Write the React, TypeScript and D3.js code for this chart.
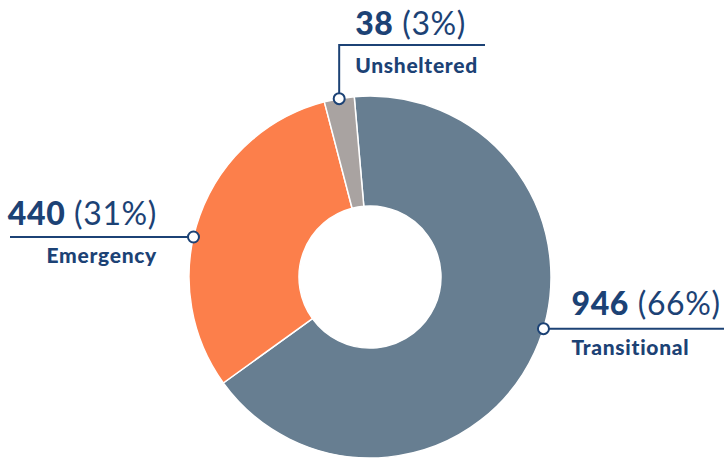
import * as d3 from "d3";

// shelter counts
const categories = ["Transitional", "Emergency", "Unsheltered"];
const counts = [946, 440, 38];
const colors = ["#677e91", "#fc7f4b", "#a9a3a1"];

const W = 724;
const H = 459;
const NAVY = "#1c4275";
const FONT = "Lato, 'Open Sans', sans-serif";

const cx = 370;
const cy = 277;
const outerR = 181;
const innerR = 71;
const deg = Math.PI / 180;

// where each leader sits and which way it runs
const leaders: Record<string, { shift: number; side: "right" | "left" | "top" }> = {
  Transitional: { shift: -8, side: "right" },
  Emergency: { shift: -7, side: "left" },
  Unsheltered: { shift: 0, side: "top" },
};

export default function App() {
  const total = d3.sum(counts);
  const pct = (v: number) => `${Math.round((v / total) * 100)}%`;

  const arcs = d3
    .pie<number>()
    .sort(null)
    .startAngle(-5 * deg)
    .endAngle(355 * deg)(counts);

  const arcPath = d3.arc<d3.PieArcDatum<number>>().innerRadius(innerR).outerRadius(outerR);

  return (
    <svg
      width={W}
      height={H}
      style={{ position: "absolute", left: 0, top: 0, background: "#fff" }}
      fontFamily={FONT}
    >
      <g transform={`translate(${cx},${cy})`}>
        {arcs.map((d, i) => (
          <path key={categories[i]} d={arcPath(d) || ""} fill={colors[i]} stroke="#fff" strokeWidth={1.5} />
        ))}
      </g>

      {arcs.map((d, i) => {
        const name = categories[i];
        const cfg = leaders[name];
        const a = (d.startAngle + d.endAngle) / 2 + cfg.shift * deg;
        const mx = cx + outerR * Math.sin(a);
        const my = cy - outerR * Math.cos(a);

        let line = "";
        let tx = 0, ny = 0, ly = 0;
        let anchor: "start" | "end" = "start";
        if (cfg.side === "right") {
          line = `M${mx},${my}H${W}`;
          tx = mx + 28;
          ny = my - 14;
          ly = my + 26;
        } else if (cfg.side === "left") {
          line = `M${mx},${my}H10`;
          tx = 157;
          anchor = "end";
          ny = my - 12;
          ly = my + 26;
        } else {
          const top = 45;
          line = `M${mx},${my}V${top}H485`;
          tx = mx + 16;
          ny = top - 10;
          ly = top + 28;
        }

        return (
          <g key={name}>
            <path d={line} fill="none" stroke={NAVY} strokeWidth={2} />
            <circle cx={mx} cy={my} r={5.5} fill="#fff" stroke={NAVY} strokeWidth={2} />
            <text x={tx} y={ny} textAnchor={anchor} fill={NAVY} fontSize={32} letterSpacing={0.6}>
              <tspan fontWeight={900}>{counts[i]}</tspan>
              <tspan fontWeight={400}> ({pct(counts[i])})</tspan>
            </text>
            <text x={tx} y={ly} textAnchor={anchor} fill={NAVY} fontSize={21} fontWeight={900} letterSpacing={0.7}>
              {name}
            </text>
          </g>
        );
      })}
    </svg>
  );
}
